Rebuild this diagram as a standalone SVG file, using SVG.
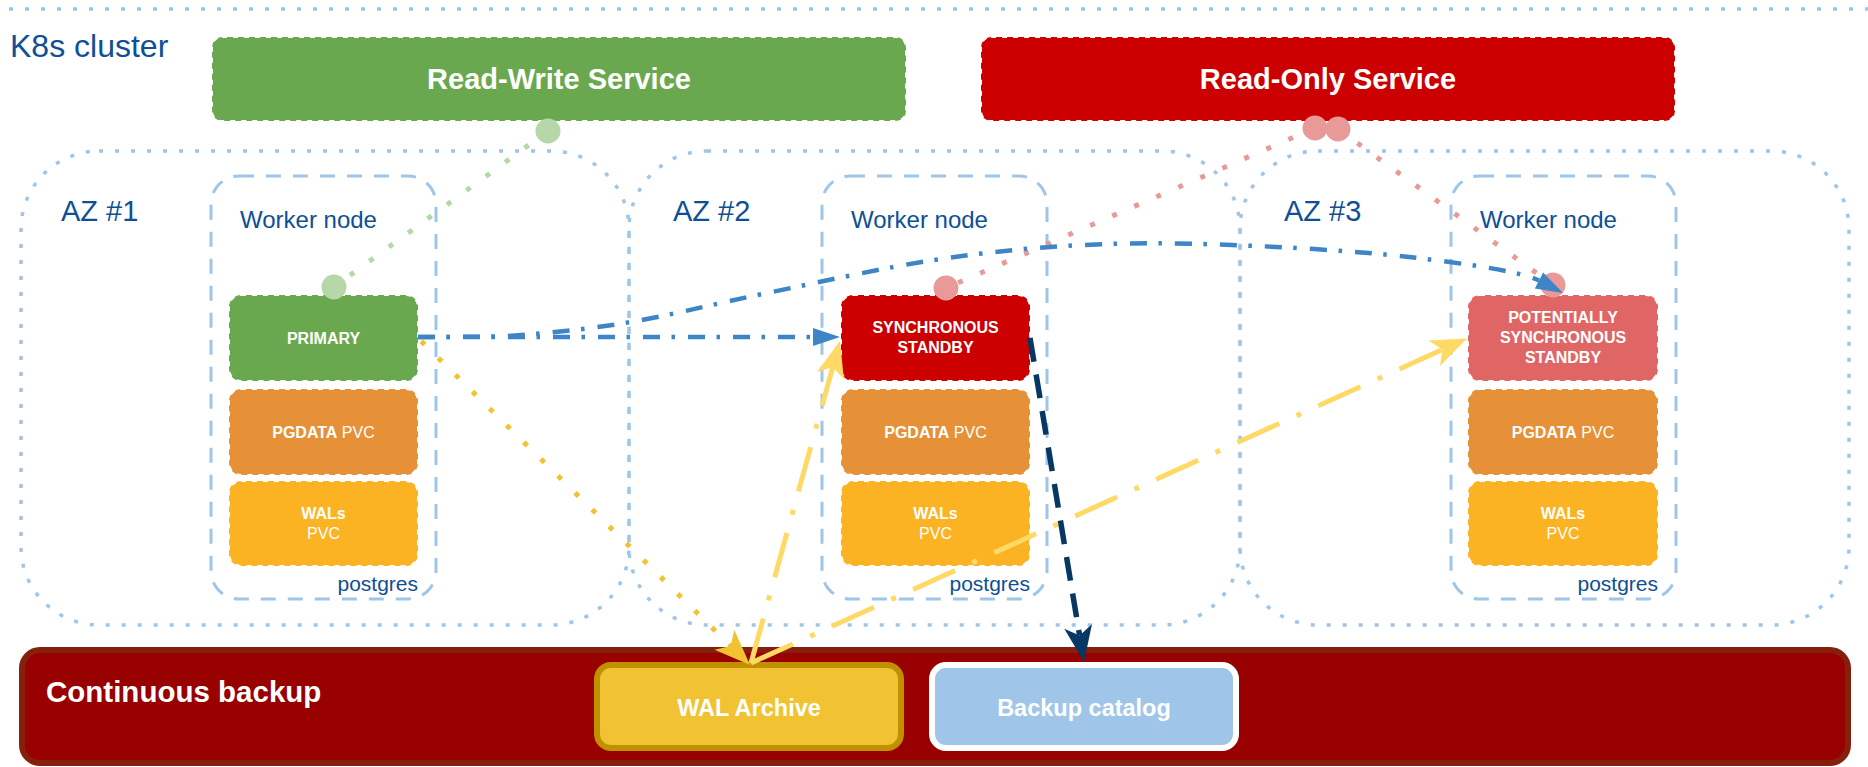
<svg xmlns="http://www.w3.org/2000/svg" width="1868" height="767" viewBox="0 0 1868 767">
  <style>
    text { font-family: "Liberation Sans", Arial, Helvetica, sans-serif; }
    .lbl { fill: #0e4f96; }
    .title { font-size: 32px; }
    .big { font-size: 29px; }
    .wn-t { font-size: 24px; }
    .pg-t { font-size: 21px; text-anchor: end; }
    .az { fill: none; stroke: #9fc5e8; stroke-width: 3.5; stroke-dasharray: 4 12; }
    .wn { fill: none; stroke: #9fc5e8; stroke-width: 3; stroke-dasharray: 15 12; }
    .box { stroke: #ffffff; stroke-width: 2; stroke-dasharray: 5 6; }
    .bt { fill: #ffffff; font-weight: bold; font-size: 16px; text-anchor: middle; }
    .rg { font-weight: normal; }
    .svc { fill: #ffffff; font-weight: bold; font-size: 29px; text-anchor: middle; }
    .bk { fill: #ffffff; font-weight: bold; font-size: 23.5px; text-anchor: middle; }
    .dot { fill: none; stroke-width: 5; stroke-dasharray: 5 19; }
    .dd-blue { fill: none; stroke: #3d85c6; stroke-width: 4.5; stroke-dasharray: 17 11.5 3.5 13; }
    .dd-yel { fill: none; stroke: #ffd966; stroke-width: 5; stroke-dasharray: 46 19 5 19; }
    .navy { fill: none; stroke: #073763; stroke-width: 5.5; stroke-dasharray: 24 13; }
  </style>
  <defs>
    <marker id="blockBlue" markerUnits="userSpaceOnUse" markerWidth="27" markerHeight="18" refX="0" refY="9" orient="auto" overflow="visible">
      <path d="M0,0 L27,9 L0,18 z" fill="#3d85c6"/>
    </marker>
    <marker id="classicGold" markerUnits="userSpaceOnUse" markerWidth="36" markerHeight="28" refX="9" refY="14" orient="auto" overflow="visible">
      <path d="M0,0 L36,14 L0,28 L9,14 z" fill="#f1c232"/>
    </marker>
    <marker id="classicPale" markerUnits="userSpaceOnUse" markerWidth="36" markerHeight="28" refX="9" refY="14" orient="auto" overflow="visible">
      <path d="M0,0 L36,14 L0,28 L9,14 z" fill="#ffd966"/>
    </marker>
    <marker id="classicNavy" markerUnits="userSpaceOnUse" markerWidth="36" markerHeight="28" refX="9" refY="14" orient="auto" overflow="visible">
      <path d="M0,0 L36,14 L0,28 L9,14 z" fill="#073763"/>
    </marker>
  </defs>

  <!-- cluster frame (top edge) and title -->
  <g id="k8s-cluster">
    <line class="az" x1="0" y1="9" x2="1868" y2="9" stroke-dashoffset="-9"/>
    <text class="lbl title" x="10" y="57">K8s cluster</text>
  </g>

  <!-- availability zones -->
  <g id="az1">
    <rect class="az" x="21" y="151" width="608" height="474" rx="78"/>
    <text class="lbl big" x="61" y="221">AZ #1</text>
  </g>
  <g id="az2">
    <rect class="az" x="629" y="151" width="611" height="474" rx="78"/>
    <text class="lbl big" x="673" y="221">AZ #2</text>
  </g>
  <g id="az3">
    <rect class="az" x="1240" y="151" width="609" height="474" rx="78"/>
    <text class="lbl big" x="1284" y="221">AZ #3</text>
  </g>

  <!-- worker nodes -->
  <g id="worker1">
    <rect class="wn" x="211" y="176" width="225" height="423" rx="28"/>
    <text class="lbl wn-t" x="240" y="228">Worker node</text>
    <text class="lbl pg-t" x="418" y="591">postgres</text>
  </g>
  <g id="worker2">
    <rect class="wn" x="822" y="176" width="225" height="423" rx="28"/>
    <text class="lbl wn-t" x="851" y="228">Worker node</text>
    <text class="lbl pg-t" x="1030" y="591">postgres</text>
  </g>
  <g id="worker3">
    <rect class="wn" x="1451" y="176" width="225" height="423" rx="28"/>
    <text class="lbl wn-t" x="1480" y="228">Worker node</text>
    <text class="lbl pg-t" x="1658" y="591">postgres</text>
  </g>

  <!-- instances and volumes, AZ #1 -->
  <g id="primary">
    <rect class="box" x="229" y="295" width="189" height="86" rx="12" fill="#6aa84f"/>
    <text class="bt" x="323.5" y="344">PRIMARY</text>
  </g>
  <g id="pgdata1">
    <rect class="box" x="229" y="389" width="189" height="86" rx="12" fill="#e69138"/>
    <text class="bt" x="323.5" y="438">PGDATA<tspan class="rg"> PVC</tspan></text>
  </g>
  <g id="wals1">
    <rect class="box" x="229" y="481" width="189" height="85" rx="12" fill="#fbb324"/>
    <text class="bt" x="323.5" y="519">WALs</text>
    <text class="bt rg" x="323.5" y="539">PVC</text>
  </g>

  <!-- instances and volumes, AZ #2 -->
  <g id="sync-standby">
    <rect class="box" x="841" y="295" width="189" height="86" rx="12" fill="#cc0000"/>
    <text class="bt" x="935.5" y="333">SYNCHRONOUS</text>
    <text class="bt" x="935.5" y="353">STANDBY</text>
  </g>
  <g id="pgdata2">
    <rect class="box" x="841" y="389" width="189" height="86" rx="12" fill="#e69138"/>
    <text class="bt" x="935.5" y="438">PGDATA<tspan class="rg"> PVC</tspan></text>
  </g>
  <g id="wals2">
    <rect class="box" x="841" y="481" width="189" height="85" rx="12" fill="#fbb324"/>
    <text class="bt" x="935.5" y="519">WALs</text>
    <text class="bt rg" x="935.5" y="539">PVC</text>
  </g>

  <!-- instances and volumes, AZ #3 -->
  <g id="potential-standby">
    <rect class="box" x="1468" y="295" width="190" height="86" rx="12" fill="#e06666"/>
    <text class="bt" x="1563" y="323">POTENTIALLY</text>
    <text class="bt" x="1563" y="343">SYNCHRONOUS</text>
    <text class="bt" x="1563" y="363">STANDBY</text>
  </g>
  <g id="pgdata3">
    <rect class="box" x="1468" y="389" width="190" height="86" rx="12" fill="#e69138"/>
    <text class="bt" x="1563" y="438">PGDATA<tspan class="rg"> PVC</tspan></text>
  </g>
  <g id="wals3">
    <rect class="box" x="1468" y="481" width="190" height="85" rx="12" fill="#fbb324"/>
    <text class="bt" x="1563" y="519">WALs</text>
    <text class="bt rg" x="1563" y="539">PVC</text>
  </g>

  <!-- services -->
  <g id="rw-service">
    <rect class="box" x="212" y="37" width="694" height="84" rx="10" fill="#6aa84f"/>
    <text class="svc" x="559" y="89">Read-Write Service</text>
  </g>
  <g id="ro-service">
    <rect class="box" x="981" y="37" width="694" height="84" rx="10" fill="#cc0000"/>
    <text class="svc" x="1328" y="89">Read-Only Service</text>
  </g>

  <!-- backup area -->
  <g id="continuous-backup">
    <rect x="22" y="650" width="1826" height="113" rx="18" fill="#990000" stroke="#85200c" stroke-width="6"/>
    <text fill="#ffffff" font-weight="bold" font-size="29.5" x="46" y="702">Continuous backup</text>
  </g>
  <g id="wal-archive">
    <rect x="597" y="665" width="304" height="83" rx="14" fill="#f1c232" stroke="#bf9000" stroke-width="6"/>
    <text class="bk" x="749" y="716">WAL Archive</text>
  </g>
  <g id="backup-catalog">
    <rect x="932" y="665" width="304" height="83" rx="14" fill="#9fc5e8" stroke="#ffffff" stroke-width="6"/>
    <text class="bk" x="1084" y="716">Backup catalog</text>
  </g>

  <!-- connectors -->
  <g id="connectors">
    <!-- service endpoints -->
    <line class="dot" stroke="#b6d7a8" x1="548" y1="131" x2="334" y2="287"/>
    <line class="dot" stroke="#ea9999" x1="1315" y1="128" x2="946" y2="288"/>
    <line class="dot" stroke="#ea9999" x1="1338" y1="129" x2="1553" y2="285"/>
    <circle cx="548" cy="131" r="12.5" fill="#b6d7a8"/>
    <circle cx="334" cy="287" r="12.5" fill="#b6d7a8"/>
    <circle cx="1315" cy="128" r="12.5" fill="#ea9999"/>
    <circle cx="1338" cy="129" r="12.5" fill="#ea9999"/>
    <circle cx="946" cy="288" r="12.5" fill="#ea9999"/>
    <circle cx="1553" cy="285" r="12.5" fill="#ea9999"/>

    <!-- streaming replication -->
    <path class="dd-blue" d="M418,337 L813,337" marker-end="url(#blockBlue)"/>
    <path class="dd-blue" d="M418,337 C432,337 465,337 500,336.5 C534.5,334.2 580.5,330.3 625,323 C669.5,315.7 715.5,303.5 767,293 C818.5,282.5 881.3,268 934,260 C986.7,252 1033.3,247.5 1083,245 C1132.7,242.5 1177.7,243 1232,245 C1286.3,247 1357.8,251.1 1409,257 C1460.2,262.9 1521.3,271.3 1539,280.5" marker-end="url(#blockBlue)"/>

    <!-- WAL archiving and restore -->
    <path class="dot" stroke="#f1c232" stroke-dashoffset="-3" d="M419,339 L730.8,646.1" marker-end="url(#classicGold)"/>
    <path class="dd-yel" d="M751,663 L832.8,367" marker-end="url(#classicPale)"/>
    <path class="dd-yel" d="M751,663 L1442.4,349.6" marker-end="url(#classicPale)"/>

    <!-- base backup -->
    <path class="navy" d="M1030,338 L1079.6,635.4" marker-end="url(#classicNavy)"/>
  </g>
</svg>
